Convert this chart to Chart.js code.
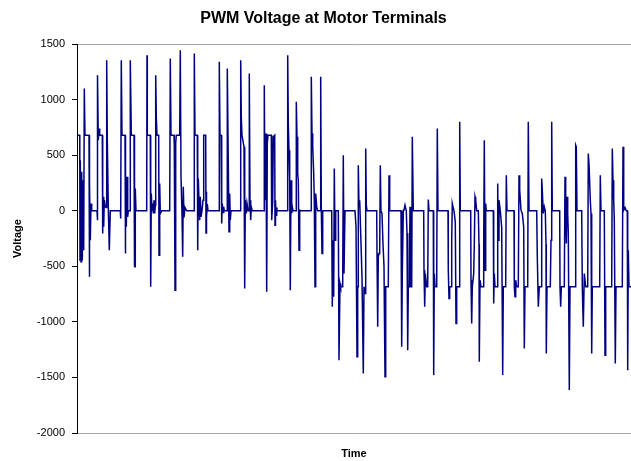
<!DOCTYPE html>
<html>
<head>
<meta charset="utf-8">
<script src="https://cdn.jsdelivr.net/npm/chart.js@4.4.1/dist/chart.umd.min.js"></script>
<style>
  html, body { margin: 0; padding: 0; background: #fff; }
  #wrap { width: 631px; height: 461px; }
</style>
</head>
<body>
<div id="wrap"><canvas id="pwmChart" width="631" height="461"></canvas></div>
<script>
// time steps (arbitrary units) and voltage
const sampleTimes = [
  0, 2.7, 2.8, 3.0, 3.3, 4.0, 4.7, 5.3, 6.0, 6.7, 7.3, 8.0, 12.0, 12.3, 12.7, 13.3, 14.0, 14.7, 20.0, 20.3,
  20.7, 21.3, 22.0, 22.7, 25.3, 25.7, 26.0, 26.7, 27.3, 28.3, 29.3, 29.7, 30.3, 31.3, 32.3, 33.3, 43.3, 43.7, 44.3, 45.0,
  48.0, 48.3, 48.7, 49.3, 50.0, 50.7, 51.3, 53.0, 53.3, 54.3, 57.0, 57.3, 57.7, 58.0, 58.3, 59,
  69.7, 70, 70.3, 73.3, 73.7, 74.3, 75, 75.7, 76.3, 77, 77.7, 78.3, 78.7, 79.3, 80, 81.7, 82, 82.7, 83.3, 84.7,
  92.7, 93.3, 94, 97, 97.3, 98, 98.7, 99.3, 102.7, 103.3, 104, 105, 105.7, 106.3, 107, 108, 109.7, 117, 117.3, 118,
  120.3, 120.7, 121.3, 122, 122.7, 123.3, 124, 125, 126, 126.7, 128.7, 129, 129.3, 129.7, 130.3, 131,
  142, 142.3, 143, 144, 144.7, 145.3, 146, 146.7, 147.3, 150, 150.3, 151, 151.7, 152, 152.7, 153.3, 154,
  163.3, 163.7, 164.3, 165, 167, 167.7, 168.3, 169.3, 170, 171, 172, 172.3, 173, 173.7, 174.3, 175.3,
  187, 187.3, 188, 189, 189.7, 190.3, 191, 194.3, 194.7, 195.7, 196.3, 197.7, 198, 198.5, 199, 199.7, 200.3,
  210.3, 210.7, 211.3, 212, 212.7, 213.3, 214, 214.7, 215.3, 216, 219, 219.3, 220, 220.7, 221.3, 222, 222.7, 224,
  234, 234.3, 235, 235.7, 236.7, 237.3, 238, 238.7, 239.7, 240.7, 243.3, 243.7, 244.3, 245, 245.7,
  254.7, 255.3, 256, 256.7, 257.3, 258, 258.7, 261.3, 262, 263, 263.7, 265.7, 266.3, 267, 268,
  278, 279, 280, 280.7, 281, 281.3, 282, 282.7, 283.7, 285, 286.3, 287, 288, 288.7, 289.3, 290,
  299.7, 300, 300.7, 301.3, 302, 302.7, 303.3, 304, 305, 306, 307, 308, 308.7, 311.3, 312, 312.7,
  324, 324.7, 325.3, 326.3, 327, 328, 329.3, 330, 330.7, 331.3, 332.3, 333, 333.7, 334.7, 335.3, 336.3,
  346.7, 347, 347.7, 348.3, 349.7, 350.7, 351.3, 352, 356.3, 356.7, 357.3, 358, 359.7, 360.3, 361,
  371, 371.3, 372, 372.7, 374, 374.7, 375.3, 376, 377, 378.3, 379, 379.7, 382, 382.7, 383.3,
  393.7, 394, 394.7, 395.3, 396.7, 397.3, 398, 398.7, 399.7, 401.3, 402, 402.3, 403, 404, 406, 406.7, 407.3, 408, 408.7, 409.3,
  416.3, 416.7, 417.3, 418, 420, 420.7, 421.3, 422, 423.3, 424.7, 425.7, 426.3, 428.7, 429.3, 430,
  437, 437.3, 438, 438.7, 439.7, 441.3, 442, 442.7, 444, 445.3, 446.7, 447.3, 448, 450.7, 451.3, 452,
  459.7, 460.3, 461.3, 462.3, 464, 464.7, 465.3, 466.3, 467.3, 468.3, 469, 469.3, 470, 473.3, 474, 474.7, 475.3,
  482.7, 483, 483.7, 484.3, 487.3, 488, 488.7, 489.3, 490, 490.7, 491.3, 492.3, 493, 498, 498.7, 499.3, 500,
  504.7, 505.3, 506.3, 507.3, 508.7, 510.7, 511.3, 512, 513.3, 514, 514.7, 515.3, 522.7, 523.3, 524,
  527.3, 528, 528.7, 534.7, 535.3, 536, 536.7, 537.3, 538.3, 539, 545.3, 546, 546.7, 548, 549.3,
  550.3, 550.7, 551.3, 552, 554
];

const motorVolts = [
  680, 680, 396, -444, 456, -459, 351, -444, 276, -354, 1101, 680, 680, -594, 246, -264, 66, 0, 0, -84,
  1221, 636, 741, 680, 680, -204, 126, -144, 96, 36, 30, 1356, 636, 36, -354, 0, 0, -69, 1356, 680,
  680, -384, 276, -144, 306, -54, 0, 0, 1356, 680, 680, -504, 321, -504, 200, 0,
  0, 1401, 680, 680, -684, 156, 6, 66, -24, 96, -24, 50, 1221, 846, 680, 680, -399, 246, -24, 0,
  0, 1371, 680, 680, 576, -714, 606, 680, 680, 1446, 306, -24, -414, 216, -60, 30, 0, 0, 1416, 680,
  680, -354, 291, 96, -84, 126, -54, 0, 96, 680, 680, -200, 171, -60, 60, 0,
  0, 1341, 680, 680, -114, 66, -15, 36, 0, 0, 1281, 680, 680, -189, 156, -84, 0,
  0, 1356, 846, 680, 576, -699, 96, -24, 66, 0, 0, 1236, 96, -84, 36, 0,
  0, 1131, 96, 696, -729, 606, 680, 680, -84, 81, 666, 680, -129, 96, -39, 30, 0,
  0, 1401, 786, 546, 276, -714, 276, -24, 36, 0, 0, 981, 666, 336, 276, -354, 6, 0,
  0, 1206, 696, 576, 336, 96, -684, 156, 36, 0, 0, 1206, 36, -384, 0,
  0, -864, -264, -774, 381, -264, 0, 0, -1344, -654, -684, -684, 501, -564, 0,
  0, -144, -1314, -684, -684, 411, 36, 96, -200, -600, -1464, -684, -744, 561, 51, 0,
  0, -384, -1044, -414, -384, -354, 411, 0, -24, -300, -500, -1494, -684, -684, 321, 0,
  0, -1224, -564, 6, 6, 51, 0, -200, -1254, -684, -684, 36, -684, -684, 666, 0,
  0, -534, -864, -564, -684, -684, 102, 0, 0, -1479, -564, -684, -684, 741, 0,
  0, -534, -789, -684, -684, -264, 66, 36, 0, -100, -1014, -684, -684, 801, 0,
  0, -624, -1014, -684, -564, -300, 126, 96, 0, 0, -300, -1359, -624, -684, -684, -324, 636, -534, 66, 0,
  0, -834, -564, -684, -684, 246, -264, 96, 0, -150, -1479, -684, -684, 321, 0,
  0, -684, -774, -624, -684, -684, 321, 186, 6, -24, -144, -1239, -684, -684, 801, 0,
  0, -414, -864, -684, -684, 291, 186, -24, 36, 0, -300, -1284, -684, -684, -264, 801, 0,
  0, -684, -864, -684, -684, 306, 126, -294, 126, -24, -204, -1614, -684, -684, 591, 576, 0,
  0, -684, -1044, -564, -684, -684, 516, 426, 96, -24, -1284, -684, -684, 321, 0,
  0, -1299, -684, -684, 561, 276, 96, -84, -1374, -684, -684, 576, 6, 30, 0,
  0, -1434, -354, -684, -684
];

const yTickValues = [1500, 1000, 500, 0, -500, -1000, -1500, -2000];

let points = [];
for (let i = 0; i < sampleTimes.length; i++) {
  points.push({ x: sampleTimes[i], y: motorVolts[i] });
}

const fontFamily = "'Liberation Sans', Arial, sans-serif";

var ctx = document.getElementById("pwmChart").getContext("2d");
var myChart = new Chart(ctx, {
  type: "line",
  data: {
    datasets: [
      {
        label: "Voltage",
        data: points,
        borderColor: "#000080",
        borderWidth: 1.5,
        pointRadius: 0,
        tension: 0,
        fill: false,
      },
    ],
  },
  options: {
    responsive: false,
    animation: false,
    layout: { padding: { left: 16, right: 0, top: 0, bottom: 0 } },
    plugins: {
      legend: { display: false },
      tooltip: { enabled: false },
      title: {
        display: true,
        text: "PWM Voltage at Motor Terminals",
        color: "#000",
        font: { family: fontFamily, size: 16, weight: "bold" },
        padding: { top: 9, bottom: 16 },
      },
    },
    scales: {
      x: {
        type: "linear",
        min: 0,
        max: 554,
        grid: { display: false },
        border: { display: false },
        ticks: { display: false },
        title: {
          display: true,
          text: "Time",
          color: "#000",
          font: { family: fontFamily, size: 11, weight: "bold" },
          padding: { top: 0, bottom: 0 },
        },
        afterFit: (scale) => {
          scale.height = 28;
        },
      },
      y: {
        min: -2000,
        max: 1500,
        afterBuildTicks: (scale) => {
          scale.ticks = yTickValues.map((v) => ({ value: v }));
        },
        ticks: {
          color: "#000",
          padding: 7,
          font: { family: fontFamily, size: 11 },
          callback: (value) => String(value), // no thousands separator
        },
        grid: {
          drawOnChartArea: true,
          // only the top and bottom frame lines are visible
          color: (c) => (c.tick && (c.tick.value === 1500 || c.tick.value === -2000) ? "#a6a6a6" : "rgba(0,0,0,0)"),
          tickColor: "#000",
          tickLength: 5,
          lineWidth: 1,
        },
        border: { color: "#000", width: 1 },
        title: {
          display: true,
          text: "Voltage",
          color: "#000",
          font: { family: fontFamily, size: 11, weight: "bold" },
          padding: { top: -4.6, bottom: 0 },
        },
        afterFit: (scale) => {
          scale.width = 61;
        },
      },
    },
  },
});
</script>
</body>
</html>
